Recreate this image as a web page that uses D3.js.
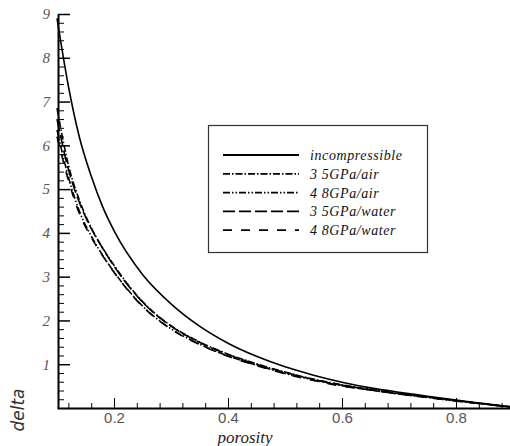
<html>
<head>
    <style>
        body { margin: 0; background: #fff; }
        .curve { fill: none; stroke: #000; stroke-width: 1.6px; }
        .axis path, .axis line { stroke: #000; }
    </style>
</head>
<body>
    <div id="chart"></div>
    <script src="https://d3js.org/d3.v7.min.js"></script>
    <script>
        // porosity sample points and the five curves
        let porosity = [0.1, 0.12, 0.14, 0.16, 0.18, 0.2, 0.25, 0.3, 0.35, 0.4, 0.45, 0.5, 0.55, 0.6, 0.65, 0.7, 0.75, 0.8, 0.85, 0.9];
        let incompressible = [8.9, 7.35, 6.15, 5.3, 4.6, 4.05, 3.05, 2.38, 1.87, 1.48, 1.18, 0.94, 0.75, 0.59, 0.46, 0.36, 0.27, 0.18, 0.1, 0.02];
        let air35 = [6.85, 5.55, 4.72, 4.12, 3.66, 3.26, 2.43, 1.88, 1.51, 1.23, 1.01, 0.82, 0.66, 0.53, 0.42, 0.33, 0.25, 0.17, 0.09, 0.02];
        let air48 = [6.35, 5.28, 4.47, 3.93, 3.49, 3.11, 2.33, 1.81, 1.46, 1.19, 0.98, 0.79, 0.64, 0.51, 0.41, 0.32, 0.24, 0.16, 0.09, 0.02];
        let water35 = [6.6, 5.45, 4.67, 4.1, 3.65, 3.24, 2.42, 1.87, 1.5, 1.22, 1.0, 0.81, 0.65, 0.52, 0.42, 0.33, 0.25, 0.17, 0.09, 0.02];
        let water48 = [6.2, 5.2, 4.42, 3.9, 3.48, 3.1, 2.32, 1.8, 1.45, 1.18, 0.97, 0.78, 0.63, 0.5, 0.41, 0.32, 0.24, 0.16, 0.09, 0.02];
        let seriesNames = ['incompressible', '3 5GPa/air', '4 8GPa/air', '3 5GPa/water', '4 8GPa/water'];
        let xTicks = [0.2, 0.4, 0.6, 0.8];
        let yTicks = [1, 2, 3, 4, 5, 6, 7, 8, 9];

        let width = 510, height = 446;
        let dashes = [null, '7,2,1.5,2', '7,2,1.5,2,1.5,2', '12,4', '9,9'];
        let series = [incompressible, air35, air48, water35, water48];

        let svg = d3.select('#chart').append('svg')
            .attr('width', width)
            .attr('height', height);

        let x = d3.scaleLinear().domain([0.1, 0.9]).range([57, 513]);
        let y = d3.scaleLinear().domain([0, 9]).range([408, 14]);

        // minor ticks
        let xMinor = d3.range(0.12, 0.9, 0.04).filter(function (d) { return Math.abs(Math.round(d * 5) - d * 5) > 0.01; });
        let yMinor = d3.range(0.2, 9, 0.2).filter(function (d) { return Math.abs(Math.round(d) - d) > 0.01; });

        svg.append('g')
            .attr('class', 'axis')
            .attr('transform', 'translate(0,408)')
            .call(d3.axisBottom(x).tickValues(xMinor).tickSize(-5).tickFormat(''))
            .call(function (g) { g.select('.domain').remove(); });

        svg.append('g')
            .attr('class', 'axis')
            .attr('transform', 'translate(58,0)')
            .call(d3.axisLeft(y).tickValues(yMinor).tickSize(-6).tickFormat(''))
            .call(function (g) { g.select('.domain').remove(); });

        let xAxis = svg.append('g')
            .attr('class', 'axis')
            .attr('transform', 'translate(0,408)')
            .call(d3.axisBottom(x).tickValues(xTicks).tickSize(-10).tickPadding(4).tickSizeOuter(0).tickFormat(d3.format('.1f')));
        xAxis.select('.domain').attr('stroke-width', 2);
        xAxis.selectAll('text')
            .attr('fill', '#555')
            .style('font', '15px "Liberation Sans", Arial, sans-serif');

        let yAxis = svg.append('g')
            .attr('class', 'axis')
            .attr('transform', 'translate(58,0)')
            .call(d3.axisLeft(y).tickValues(yTicks).tickSize(-12).tickPadding(8).tickSizeOuter(0));
        yAxis.select('.domain').attr('stroke-width', 2);
        yAxis.selectAll('line').attr('stroke-width', 1.5);
        yAxis.selectAll('text')
            .attr('fill', '#555')
            .style('font', 'italic 15px "Liberation Serif", serif');

        // curves
        let line = d3.line()
            .x(function (d, i) { return x(porosity[i]); })
            .y(function (d) { return y(d); })
            .curve(d3.curveMonotoneX);

        svg.selectAll('.curve')
            .data(series)
            .enter().append('path')
            .attr('class', 'curve')
            .attr('d', line)
            .attr('stroke-dasharray', function (d, i) { return dashes[i]; });

        // axis titles
        svg.append('text')
            .attr('x', 245)
            .attr('y', 443)
            .attr('text-anchor', 'middle')
            .attr('fill', '#222')
            .style('font', 'italic 17px "Liberation Serif", serif')
            .text('porosity');

        svg.append('text')
            .attr('transform', 'translate(24,410) rotate(-90)')
            .attr('text-anchor', 'middle')
            .attr('fill', '#333')
            .style('font', 'italic 17px "DejaVu Sans", sans-serif')
            .style('font-weight', '200')
            .text('delta');

        // legend
        let legend = svg.append('g');
        legend.append('rect')
            .attr('x', 208.5).attr('y', 125.5)
            .attr('width', 219).attr('height', 127)
            .attr('fill', '#fff')
            .attr('stroke', '#333')
            .attr('stroke-width', 1.2);

        let rows = legend.selectAll('.row')
            .data(seriesNames)
            .enter().append('g')
            .attr('transform', function (d, i) { return 'translate(0,' + (155 + i * 18.8) + ')'; });

        rows.append('line')
            .attr('x1', 223).attr('x2', 299)
            .attr('y1', 0).attr('y2', 0)
            .attr('stroke', '#000')
            .attr('stroke-width', 1.8)
            .attr('stroke-dasharray', function (d, i) { return dashes[i]; });

        rows.append('text')
            .attr('x', 310)
            .attr('y', 5)
            .attr('fill', '#111')
            .style('font', 'italic 14px "Liberation Serif", serif')
            .style('letter-spacing', '0.6px')
            .text(function (d) { return d; });
    </script>
</body>
</html>
